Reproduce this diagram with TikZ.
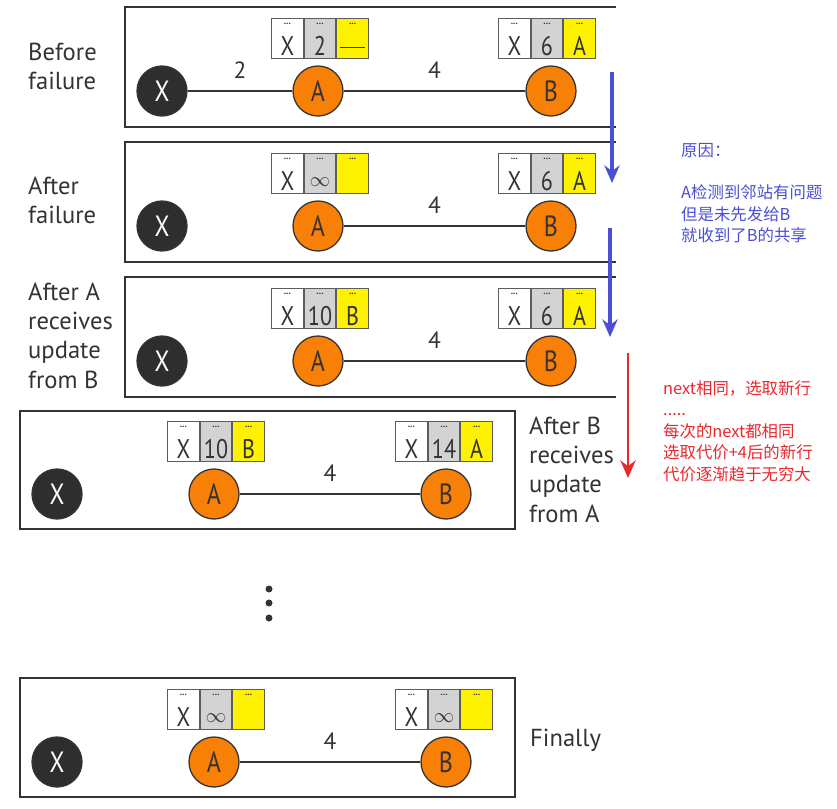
\documentclass[tikz,border=0pt]{standalone}
\usepackage{fontspec}
\setmainfont{PT Sans}
\newfontfamily\tblfont[FakeStretch=0.82]{PT Sans}
\newfontfamily\cjk{Noto Sans CJK SC}
\usetikzlibrary{positioning,arrows.meta}
\definecolor{boxline}{HTML}{333333}
\definecolor{nodeorange}{HTML}{F98006}
\definecolor{nodeblack}{HTML}{2E2E2E}
\definecolor{cellgray}{HTML}{D3D3D3}
\definecolor{noteblue}{HTML}{4A4FD6}
\definecolor{notered}{HTML}{E9282E}
\newcommand{\infsym}{\raisebox{3pt}{\fontsize{19}{19}\selectfont$\infty$}}
\newcommand{\nohop}{\rule[0.2cm]{0.75cm}{1pt}}
\newcommand{\rtable}[5]{%
  \node[cell,fill=cellgray] (#1c) at #2 {#4};
  \node[cell,fill=white,left=0pt of #1c] (#1d) {#3};
  \node[cell,fill=yellow,right=0pt of #1c] (#1n) {#5};
}

\begin{document}
\begin{tikzpicture}[x=0.03cm,y=-0.03cm,
  frame/.style={draw=boxline,line width=1.3pt},
  router/.style={circle,draw=boxline,line width=1.1pt,minimum size=1.5cm,inner sep=0pt,font=\tblfont\fontsize{25}{25}\selectfont},
  xnode/.style={router,fill=nodeblack,text=white},
  abnode/.style={router,fill=nodeorange,text=boxline},
  link/.style={draw=boxline,line width=2.3pt},
  elabel/.style={above=0.33cm,inner sep=0pt,text depth=0pt,font=\fontsize{20}{20}\selectfont,text=boxline},
  stage/.style={anchor=west,align=left,inner sep=0pt,font=\fontsize{21}{25}\selectfont,text=boxline},
  celldots/.style={anchor=north,inner sep=0pt,yshift=-5pt,font=\fontsize{8}{8}\selectfont\bfseries,text=boxline},
  cell/.style={draw=boxline!80,line width=0.8pt,minimum width=0.95cm,minimum height=1.2cm,inner sep=0pt,text height=1.02cm,text depth=0pt,font=\tblfont\fontsize{23}{23}\selectfont,text=boxline,label={[celldots]north:...}},
  note/.style={anchor=west,align=left,inner sep=0pt,font=\cjk\fontsize{14}{18.3}\selectfont},
  flow/.style={line width=2.6pt,-{Stealth[length=15pt,width=13pt]}},
  dot/.style={circle,fill=boxline,inner sep=0pt,minimum size=0.21cm}
]
\useasboundingbox (0,0) rectangle (837,808);

\draw[frame] (616,7) -- (125,7) -- (125,127) -- (616,127);
\node[xnode] (bX) at (162,91) {X};
\node[abnode] (bA) at (318,91) {A};
\node[abnode] (bB) at (551,91) {B};
\draw[link] (bX) -- node[elabel]{2} (bA);
\draw[link] (bA) -- node[elabel]{4} (bB);
\rtable{bTA}{(320,38)}{X}{2}{\nohop}
\rtable{bTB}{(547,38)}{X}{6}{A}
\node[stage] (bL) at (28,66.5) {Before\\failure};

\draw[frame] (616,142) -- (125,142) -- (125,262) -- (616,262);
\node[xnode] (fX) at (162,226) {X};
\node[abnode] (fA) at (318,226) {A};
\node[abnode] (fB) at (551,226) {B};
\draw[link] (fA) -- node[elabel]{4} (fB);
\rtable{fTA}{(320,173)}{X}{\infsym}{}
\rtable{fTB}{(547,173)}{X}{6}{A}
\node[stage] (fL) at (28,200.5) {After\\failure};

\draw[frame] (616,277) -- (125,277) -- (125,397) -- (616,397);
\node[xnode] (raX) at (162,361) {X};
\node[abnode] (raA) at (318,361) {A};
\node[abnode] (raB) at (551,361) {B};
\draw[link] (raA) -- node[elabel]{4} (raB);
\rtable{raTA}{(320,308)}{X}{10}{B}
\rtable{raTB}{(547,308)}{X}{6}{A}
\node[stage] (raL) at (28,335.5) {After A\\receives\\update\\from B};

\draw[frame] (20,411) rectangle (515,529);
\node[xnode] (rbX) at (57,494) {X};
\node[abnode] (rbA) at (214,494) {A};
\node[abnode] (rbB) at (446,494) {B};
\draw[link] (rbA) -- node[elabel]{4} (rbB);
\rtable{rbTA}{(216,441)}{X}{10}{B}
\rtable{rbTB}{(444,441)}{X}{14}{A}
\node[stage] (rbL) at (529,469.5) {After B\\receives\\update\\from A};

\node[dot] (d1) at (269,589) {};
\node[dot] (d2) at (269,603) {};
\node[dot] (d3) at (269,618) {};

\draw[frame] (20,678) rectangle (515,797);
\node[xnode] (nX) at (57,762) {X};
\node[abnode] (nA) at (214,762) {A};
\node[abnode] (nB) at (446,762) {B};
\draw[link] (nA) -- node[elabel]{4} (nB);
\rtable{nTA}{(216,709)}{X}{\infsym}{}
\rtable{nTB}{(444,709)}{X}{\infsym}{}
\node[stage] (nL) at (530,740) {Finally};

\coordinate (a1s) at (612,72);
\coordinate (a1e) at (612,183);
\coordinate (a2s) at (610,228);
\coordinate (a2e) at (610,337);
\coordinate (a3s) at (628,353);
\coordinate (a3e) at (628,478);
\draw[flow,noteblue] (a1s) -- (a1e);
\draw[flow,noteblue] (a2s) -- (a2e);
\draw[flow,notered,line width=2.2pt] (a3s) -- (a3e);

\node[note,text=noteblue] (why) at (681,193) {原因：\\\mbox{}\\A检测到邻站有问题\\但是未先发给B\\就收到了B的共享};
\node[note,text=notered] (loop) at (663,431) {next相同，选取新行\\.....\\每次的next都相同\\选取代价+4后的新行\\代价逐渐趋于无穷大};
\end{tikzpicture}
\end{document}
